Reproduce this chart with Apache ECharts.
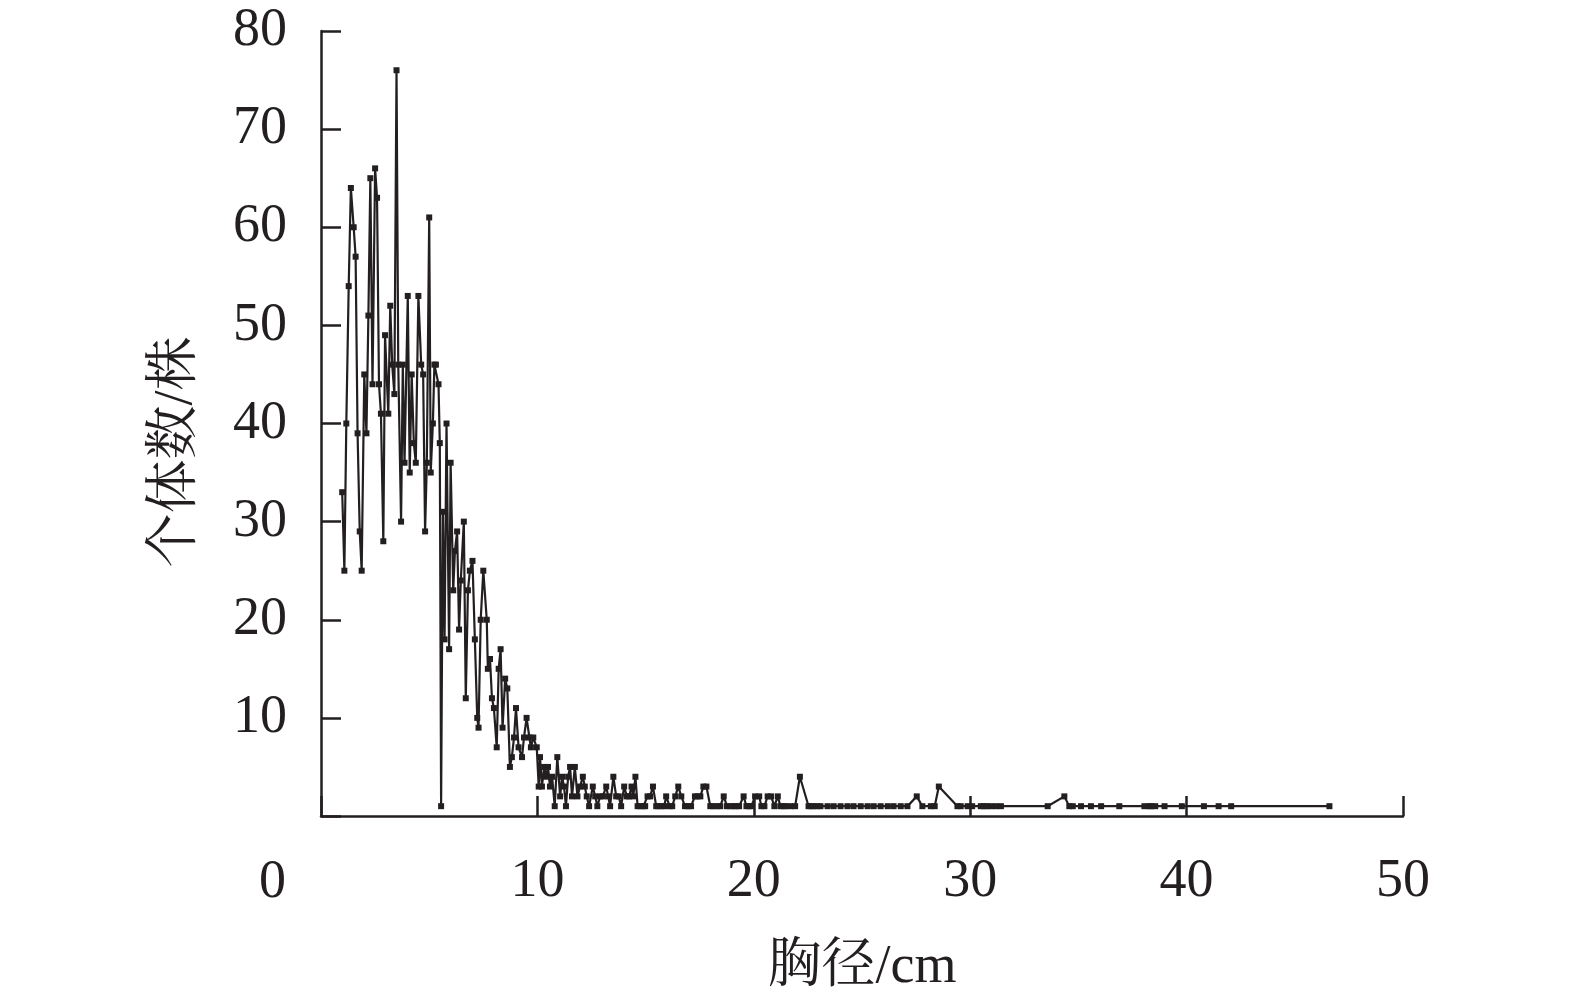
<!DOCTYPE html>
<html>
<head>
<meta charset="utf-8">
<script src="https://cdn.jsdelivr.net/npm/echarts@6/dist/echarts.min.js"></script>
<style>html,body{margin:0;padding:0;background:#fff;}#c{width:1575px;height:1000px;}</style>
</head>
<body>
<div id="c"></div>
<script>
// DBH (cm) of each point
const dbh = [0.98,1.08,1.17,1.28,1.38,1.51,1.60,1.69,1.79,1.88,2.00,2.10,2.19,2.28,2.38,2.50,2.59,2.68,2.77,2.88,
2.96,3.11,3.20,3.29,3.39,3.49,3.57,3.70,3.78,3.86,4.01,4.10,4.19,4.29,4.38,4.50,4.63,4.72,4.81,4.89,
5.00,5.07,5.17,5.24,5.31,5.43,5.49,5.55,5.63,5.71,5.80,5.92,5.99,6.11,6.19,6.29,6.38,6.46,6.60,6.69,
6.79,6.88,7.00,7.11,7.22,7.28,7.38,7.50,7.66,7.71,7.81,7.90,7.99,8.12,8.21,8.30,8.39,8.51,8.61,8.73,
8.82,8.92,9.01,9.13,9.29,9.38,9.50,9.63,9.70,9.81,9.97,10.06,10.12,10.21,10.31,10.40,10.49,10.58,10.68,10.80,
10.92,11.05,11.14,11.23,11.32,11.42,11.51,11.60,11.73,11.85,11.97,12.10,12.19,12.28,12.39,12.56,12.67,12.77,12.90,13.02,
13.18,13.27,13.36,13.51,13.64,13.76,13.87,14.01,14.13,14.24,14.35,14.43,14.53,14.63,14.75,14.90,14.98,15.09,15.21,15.34,
15.49,15.58,15.74,15.86,15.95,16.11,16.23,16.37,16.51,16.65,16.82,16.97,17.10,17.28,17.39,17.53,17.67,17.81,17.99,18.13,
18.30,18.45,18.61,18.76,18.92,19.07,19.19,19.32,19.53,19.66,19.78,19.89,20.06,20.25,20.35,20.49,20.64,20.80,20.95,21.11,
21.23,21.37,21.48,21.69,21.91,22.13,22.53,22.67,22.76,22.94,23.08,23.41,23.69,24.01,24.33,24.61,24.94,25.26,25.54,25.86,
26.19,26.46,26.79,27.10,27.53,27.79,28.18,28.36,28.55,29.41,29.56,29.88,30.09,30.49,30.63,30.77,30.95,31.18,31.42,33.58,
34.35,34.58,34.74,35.12,35.58,36.05,36.89,38.05,38.28,38.36,38.55,38.98,39.78,40.80,41.48,42.06,46.60];
// number of individuals
const counts = [33,25,40,54,64,60,57,39,29,25,45,39,51,65,44,66,63,44,41,28,
49,41,52,46,43,76,46,30,46,36,53,35,45,38,36,53,46,45,29,36,
61,35,40,46,46,44,38,1,31,18,40,17,36,23,27,29,19,24,30,12,
23,25,26,18,10,9,20,25,20,15,16,12,11,7,15,17,9,14,13,5,
6,8,11,7,6,8,10,8,7,8,7,3,6,3,5,4,5,3,4,1,
6,2,4,3,1,4,5,2,5,2,3,4,3,2,1,3,2,1,2,2,
3,2,1,4,2,2,1,3,2,2,3,2,4,1,1,1,1,2,2,3,
1,1,1,1,2,1,1,2,3,2,1,1,1,2,2,2,3,3,1,1,
1,1,2,1,1,1,1,1,2,1,1,1,2,2,1,1,2,2,1,2,
1,1,1,1,1,4,1,1,1,1,1,1,1,1,1,1,1,1,1,1,
1,1,1,1,2,1,1,1,3,1,1,1,1,1,1,1,1,1,1,1,
2,1,1,1,1,1,1,1,1,1,1,1,1,1,1,1,1];
const xTicks = [0,10,20,30,40,50];
const yTicks = [0,10,20,30,40,50,60,70,80];
const xName = '胸径/cm';
const yName = '个体数/株';

const ink = '#231f20';
const serif = '"Liberation Serif","Times New Roman","Noto Serif CJK SC","Noto Sans CJK SC",serif';
const chart = echarts.init(document.getElementById('c'));
chart.setOption({
  animation: false,
  backgroundColor: '#fff',
  grid: {left: 321, right: 172, top: 31, bottom: 184, containLabel: false},
  xAxis: {
    type: 'value', min: xTicks[0], max: xTicks[xTicks.length-1], interval: 10,
    axisLine: {show: true, lineStyle: {color: ink, width: 2.5}},
    axisTick: {show: true, inside: true, length: 20, lineStyle: {color: ink, width: 2.5}},
    splitLine: {show: false},
    axisLabel: {margin: 39, color: ink, fontSize: 54, fontFamily: serif,
      formatter: v => v === 0 ? '' : String(v)},
    name: xName, nameLocation: 'middle', nameGap: 125,
    nameTextStyle: {color: ink, fontSize: 54, fontFamily: serif}
  },
  yAxis: {
    type: 'value', min: yTicks[0], max: yTicks[yTicks.length-1], interval: 10,
    axisLine: {show: true, lineStyle: {color: ink, width: 2.5}},
    axisTick: {show: true, inside: true, length: 20, lineStyle: {color: ink, width: 2.5}},
    splitLine: {show: false},
    axisLabel: {margin: 34, color: ink, fontSize: 54, fontFamily: serif,
      formatter: v => v === 0 ? '' : String(v)},
    name: ''
  },
  graphic: [{
    type: 'text', left: 259, top: 856,
    style: {text: '0', fontSize: 54, fontFamily: serif, fill: ink}
  }, {
    type: 'text', x: 177, y: 452, rotation: Math.PI / 2,
    style: {text: yName, fontSize: 54, fontFamily: serif, fill: ink,
      textAlign: 'center', textVerticalAlign: 'middle'}
  }],
  series: [{
    type: 'line',
    data: dbh.map((d, i) => [d, counts[i]]),
    symbol: 'rect', symbolSize: 6, showSymbol: true,
    lineStyle: {color: ink, width: 2.2},
    itemStyle: {color: ink},
    clip: false
  }]
});
</script>
</body>
</html>
